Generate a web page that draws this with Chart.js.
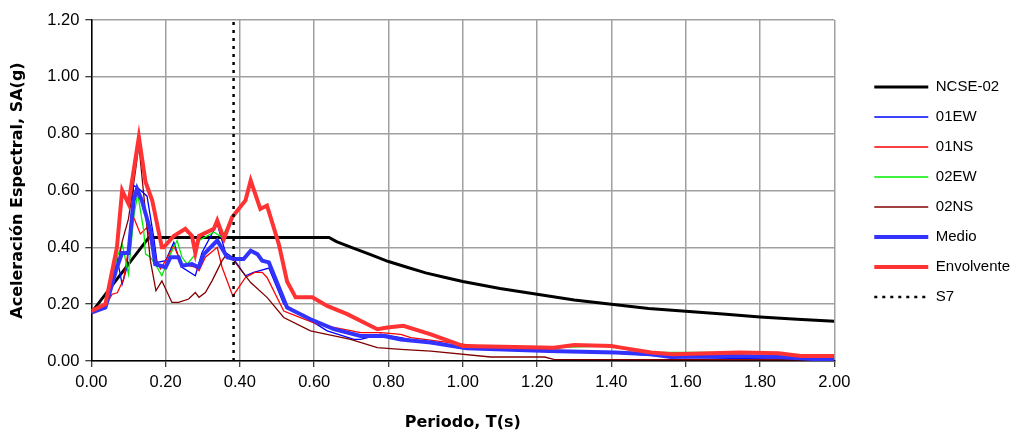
<!DOCTYPE html>
<html>
<head>
<meta charset="utf-8">
<script src="https://cdn.jsdelivr.net/npm/chart.js@4/dist/chart.umd.min.js"></script>
<style>
  body { margin: 0; background: #fff; }
  #wrap { width: 1023px; height: 432px; }
</style>
</head>
<body>
<div id="wrap"><canvas id="espectro"></canvas></div>
<script>
// Periodo T(s) y aceleración SA(g) de cada serie
const tNcse = [0, 0.155, 0.64, 0.66, 0.70, 0.75, 0.80, 0.85, 0.90, 0.95, 1.00, 1.10, 1.20, 1.30, 1.40, 1.50, 1.60, 1.70, 1.80, 1.90, 2.00];
const saNcse = [0.17, 0.435, 0.435, 0.42, 0.40, 0.375, 0.35, 0.33, 0.31, 0.295, 0.28, 0.255, 0.235, 0.215, 0.20, 0.185, 0.175, 0.165, 0.155, 0.147, 0.14];

const t01EW = [0, 0.038, 0.069, 0.083, 0.096, 0.114, 0.128, 0.15, 0.168, 0.177, 0.20, 0.222, 0.244, 0.28, 0.298, 0.339, 0.361, 0.38, 0.415, 0.437, 0.478, 0.518, 0.563, 0.635, 0.707, 0.725, 0.779, 0.833, 0.9, 1.0, 1.2, 1.4, 1.5, 1.6, 1.8, 2.0];
const sa01EW = [0.17, 0.188, 0.365, 0.27, 0.33, 0.618, 0.606, 0.58, 0.435, 0.347, 0.353, 0.418, 0.33, 0.30, 0.382, 0.482, 0.382, 0.365, 0.30, 0.312, 0.327, 0.20, 0.165, 0.106, 0.076, 0.076, 0.094, 0.082, 0.065, 0.045, 0.035, 0.03, 0.02, 0.012, 0.008, 0.005];

const t01NS = [0, 0.038, 0.056, 0.07, 0.087, 0.114, 0.132, 0.15, 0.168, 0.186, 0.20, 0.222, 0.244, 0.28, 0.29, 0.307, 0.339, 0.352, 0.381, 0.415, 0.44, 0.46, 0.473, 0.518, 0.563, 0.608, 0.725, 0.779, 0.833, 0.86, 0.99, 1.19, 1.48, 1.6, 1.8, 2.0];
const sa01NS = [0.17, 0.194, 0.235, 0.24, 0.288, 0.506, 0.447, 0.47, 0.376, 0.324, 0.353, 0.406, 0.341, 0.33, 0.318, 0.365, 0.40, 0.33, 0.228, 0.294, 0.312, 0.312, 0.294, 0.176, 0.153, 0.13, 0.10, 0.10, 0.094, 0.082, 0.06, 0.035, 0.03, 0.02, 0.012, 0.01];

const t02EW = [0, 0.038, 0.069, 0.083, 0.10, 0.114, 0.125, 0.141, 0.146, 0.159, 0.172, 0.19, 0.213, 0.231, 0.244, 0.258, 0.28, 0.29, 0.33, 0.352, 0.379, 0.415, 0.429, 0.455, 0.473, 0.505, 0.527, 0.536, 0.55, 0.595, 0.635, 0.689, 0.77, 0.797, 0.84, 0.914, 1.0, 1.245, 1.40, 1.507, 1.745, 2.0];
const sa02EW = [0.17, 0.188, 0.365, 0.412, 0.306, 0.506, 0.588, 0.459, 0.376, 0.365, 0.341, 0.30, 0.376, 0.424, 0.365, 0.341, 0.376, 0.424, 0.453, 0.435, 0.506, 0.565, 0.635, 0.535, 0.547, 0.41, 0.28, 0.254, 0.224, 0.224, 0.194, 0.165, 0.112, 0.118, 0.124, 0.094, 0.053, 0.047, 0.053, 0.03, 0.03, 0.018];

const t02NS = [0, 0.038, 0.07, 0.083, 0.10, 0.119, 0.128, 0.146, 0.159, 0.174, 0.19, 0.217, 0.235, 0.262, 0.28, 0.29, 0.307, 0.325, 0.352, 0.361, 0.384, 0.429, 0.473, 0.518, 0.59, 0.698, 0.77, 0.833, 0.914, 1.075, 1.22, 1.245, 1.6, 2.0];
const sa02NS = [0.17, 0.185, 0.33, 0.42, 0.50, 0.67, 0.76, 0.52, 0.353, 0.247, 0.282, 0.206, 0.206, 0.218, 0.241, 0.224, 0.241, 0.282, 0.353, 0.37, 0.353, 0.276, 0.224, 0.153, 0.106, 0.076, 0.047, 0.041, 0.035, 0.014, 0.014, 0.006, 0.005, 0.004];

const tMedio = [0, 0.038, 0.069, 0.083, 0.10, 0.114, 0.123, 0.136, 0.159, 0.172, 0.20, 0.213, 0.235, 0.244, 0.271, 0.289, 0.303, 0.339, 0.366, 0.384, 0.41, 0.429, 0.447, 0.46, 0.478, 0.527, 0.59, 0.653, 0.725, 0.788, 0.833, 0.914, 1.01, 1.23, 1.41, 1.507, 1.56, 1.74, 1.85, 1.956, 2.0];
const saMedio = [0.17, 0.188, 0.33, 0.38, 0.38, 0.565, 0.606, 0.565, 0.459, 0.341, 0.33, 0.365, 0.365, 0.335, 0.341, 0.33, 0.376, 0.424, 0.365, 0.359, 0.359, 0.388, 0.376, 0.353, 0.347, 0.188, 0.147, 0.112, 0.088, 0.088, 0.076, 0.065, 0.045, 0.035, 0.03, 0.024, 0.014, 0.018, 0.014, 0.006, 0.006];

const tEnv = [0, 0.038, 0.069, 0.083, 0.10, 0.128, 0.146, 0.164, 0.19, 0.195, 0.222, 0.253, 0.271, 0.28, 0.29, 0.33, 0.339, 0.357, 0.379, 0.415, 0.429, 0.455, 0.473, 0.505, 0.527, 0.55, 0.595, 0.635, 0.689, 0.77, 0.797, 0.84, 0.914, 1.0, 1.245, 1.30, 1.40, 1.426, 1.507, 1.565, 1.745, 1.85, 1.91, 2.0];
const saEnv = [0.176, 0.20, 0.40, 0.60, 0.553, 0.788, 0.63, 0.565, 0.40, 0.40, 0.44, 0.465, 0.44, 0.38, 0.44, 0.465, 0.494, 0.43, 0.506, 0.565, 0.635, 0.535, 0.547, 0.41, 0.28, 0.224, 0.224, 0.194, 0.165, 0.112, 0.118, 0.124, 0.094, 0.053, 0.047, 0.056, 0.053, 0.047, 0.03, 0.024, 0.03, 0.027, 0.018, 0.018];

const tS7 = [0.383, 0.383];
const saS7 = [0, 1.2];

const ejeTicks = ['0.00', '0.20', '0.40', '0.60', '0.80', '1.00', '1.20', '1.40', '1.60', '1.80', '2.00'];

function puntos(t, sa) {
    return t.map((v, i) => ({ x: v, y: sa[i] }));
}

function serie(label, t, sa, color, width, order, dash) {
    return {
        label: label,
        data: puntos(t, sa),
        borderColor: color,
        backgroundColor: color,
        borderWidth: width,
        borderDash: dash || [],
        pointRadius: 0,
        pointStyle: 'line',
        tension: 0,
        fill: false,
        order: order
    };
}

// mover la leyenda: más cerca del borde derecho y centrada con el área del gráfico
const moverLeyenda = {
    id: 'moverLeyenda',
    afterLayout(chart) {
        const lg = chart.legend;
        lg.left += 25;
        lg.right += 25;
        lg.top -= 34;
        lg.bottom -= 34;
    }
};

const fuente = 'Arial, "Liberation Sans", sans-serif';
const fuenteTitulo = '"DejaVu Sans", Arial, sans-serif';

new Chart(document.getElementById('espectro'), {
    type: 'line',
    data: {
        datasets: [
            serie('NCSE-02', tNcse, saNcse, '#000000', 3, 8),
            serie('01EW', t01EW, sa01EW, '#0000ff', 1.3, 7),
            serie('01NS', t01NS, sa01NS, '#ff0000', 1.3, 6),
            serie('02EW', t02EW, sa02EW, '#00ee00', 1.3, 5),
            serie('02NS', t02NS, sa02NS, '#800000', 1.3, 4),
            serie('Medio', tMedio, saMedio, '#3333ff', 4, 3),
            serie('Envolvente', tEnv, saEnv, '#ff3333', 4, 2),
            serie('S7', tS7, saS7, '#000000', 2.5, 1, [3, 5])
        ]
    },
    plugins: [moverLeyenda],
    options: {
        responsive: true,
        maintainAspectRatio: false,
        animation: false,
        layout: { padding: { top: 20, right: 28, left: 8, bottom: 0 } },
        plugins: {
            tooltip: { enabled: false },
            legend: {
                position: 'right',
                align: 'center',
                labels: {
                    usePointStyle: true,
                    pointStyleWidth: 54,
                    padding: 15,
                    color: '#000',
                    font: { family: fuente, size: 15 },
                    sort: (a, b) => a.datasetIndex - b.datasetIndex,
                    generateLabels: chart => {
                        const items = Chart.defaults.plugins.legend.labels.generateLabels(chart);
                        items.forEach(it => {
                            const ds = chart.data.datasets[it.datasetIndex];
                            it.pointStyle = 'line';
                            it.strokeStyle = ds.borderColor;
                            it.lineWidth = ds.borderWidth;
                            it.lineDash = ds.borderDash;
                        });
                        return items;
                    }
                }
            }
        },
        scales: {
            x: {
                type: 'linear',
                min: 0,
                max: 2,
                afterBuildTicks: axis => {
                    axis.ticks = ejeTicks.map(v => ({ value: parseFloat(v) }));
                },
                ticks: {
                    callback: v => v.toFixed(2),
                    color: '#000',
                    padding: 6,
                    maxRotation: 0,
                    font: { family: fuente, size: 16.5 }
                },
                grid: { color: '#a0a0a0', lineWidth: 1.5, tickColor: '#000', tickLength: 6, tickWidth: 1 },
                border: { color: '#000', width: 1.5 },
                title: {
                    display: true,
                    text: 'Periodo, T(s)',
                    color: '#000',
                    padding: { top: 14, bottom: 0 },
                    font: { family: fuenteTitulo, size: 16, weight: 'bold' }
                }
            },
            y: {
                min: 0,
                max: 1.2,
                ticks: {
                    stepSize: 0.2,
                    callback: v => v.toFixed(2),
                    color: '#000',
                    padding: 6,
                    font: { family: fuente, size: 16.5 }
                },
                grid: { color: '#a0a0a0', lineWidth: 1.5, tickColor: '#000', tickLength: 6, tickWidth: 1 },
                border: { color: '#000', width: 1.5 },
                title: {
                    display: true,
                    text: 'Aceleración Espectral, SA(g)',
                    color: '#000',
                    padding: { top: 0, bottom: 14 },
                    font: { family: fuenteTitulo, size: 16, weight: 'bold' }
                }
            }
        }
    }
});
</script>
</body>
</html>
